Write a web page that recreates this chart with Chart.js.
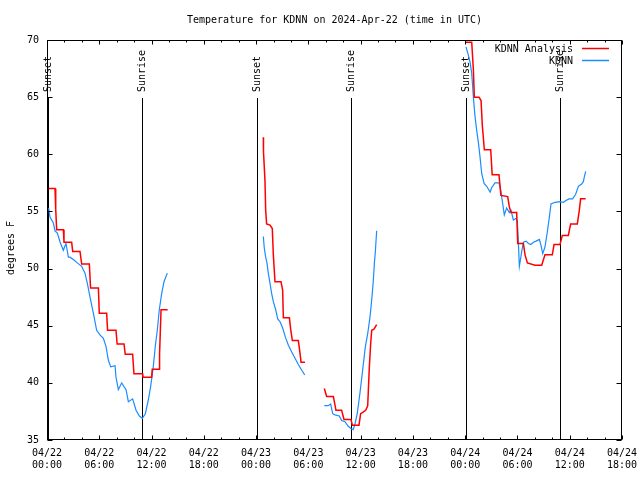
<!DOCTYPE html>
<html>
<head>
<meta charset="utf-8">
<title>Temperature for KDNN</title>
<script src="https://cdn.jsdelivr.net/npm/chart.js@4.4.1/dist/chart.umd.min.js"></script>
<style>
  html, body { margin: 0; padding: 0; background: #fff; }
  #wrap { width: 640px; height: 480px; }
</style>
</head>
<body>
<div id="wrap"><canvas id="tempChart"></canvas></div>
<script>
/* =========================
   DATA (hours since 04/22 00:00 UTC, degrees F)
   null = gap in the record
========================= */
const analysisHours = [
  0.19, 0.92, 1.0, 1.11, 1.88, 1.95, 2.83, 2.95, 3.79, 3.98, 4.86, 5.0, 5.9, 6.0, 6.85,
  6.95, 7.92, 8.05, 8.84, 8.98, 9.83, 9.98, 10.98, 11.02, 12.01, 12.08, 12.89, 12.92, 13.09, 13.85,
  19,
  24.83, 24.85, 25.02, 25.1, 25.21, 25.6, 25.86, 25.98, 26.17, 26.86, 27.05, 27.13, 27.82, 27.97,
  28.16, 28.85, 29.04, 29.16, 29.61,
  30.7,
  31.83, 32.1, 32.87, 33.17, 33.82, 34.09, 34.89, 35.05, 35.81, 36.0, 36.2, 36.58, 36.81, 37.0,
  37.15, 37.27, 37.53, 37.84,
  43,
  48.09, 48.75, 48.94, 49.05, 49.59, 49.82, 49.97, 50.2, 50.93, 51.1, 51.88, 52.1, 52.88, 53.07,
  53.26, 53.91, 54.03, 54.68, 54.87, 55.14, 56.01, 56.78, 57.16, 58.0, 58.2, 58.88, 59.15, 59.84,
  60.1, 60.87, 61.1, 61.25, 61.83
];
const analysisTemps = [
  57.0, 57.0, 55.2, 53.4, 53.4, 52.3, 52.3, 51.5, 51.5, 50.4, 50.4, 48.3, 48.3, 46.1, 46.1,
  44.6, 44.6, 43.4, 43.4, 42.5, 42.5, 40.8, 40.8, 40.5, 40.5, 41.2, 41.2, 42.5, 46.4, 46.4,
  null,
  61.5, 60.2, 57.7, 55.1, 53.9, 53.8, 53.5, 51.2, 48.85, 48.85, 48.1, 45.7, 45.7, 44.7,
  43.7, 43.7, 42.6, 41.8, 41.8,
  null,
  39.5, 38.8, 38.8, 37.6, 37.6, 36.8, 36.8, 36.3, 36.3, 37.3, 37.4, 37.6, 38.0, 41.4,
  43.4, 44.6, 44.7, 45.1,
  null,
  69.8, 69.8, 67.4, 65.0, 65.0, 64.7, 62.5, 60.4, 60.4, 58.2, 58.2, 56.4, 56.3, 55.4,
  54.9, 54.9, 52.2, 52.2, 51.2, 50.5, 50.3, 50.3, 51.2, 51.2, 52.1, 52.1, 52.9, 52.9,
  53.9, 53.9, 55.1, 56.1, 56.1
];

const obsHours = [
  0.19, 0.34, 0.73, 0.92, 1.19, 1.49, 1.87, 2.18, 2.45, 2.64, 3.1, 3.48, 3.98, 4.36, 4.63,
  4.94, 5.32, 5.7, 6.08, 6.47, 6.77, 7.04, 7.31, 7.81, 7.92, 8.19, 8.57, 9.07, 9.34, 9.83,
  10.22, 10.6, 10.94, 11.29, 11.63, 11.9, 12.2, 12.43, 12.66, 12.89, 13.16, 13.43, 13.81,
  19,
  24.83, 24.94, 25.1, 25.25, 25.4, 25.6, 25.79, 25.98, 26.25, 26.48, 26.75, 27.05, 27.36, 27.71,
  28.09, 28.47, 28.85, 29.24, 29.58,
  30.7,
  31.83, 32.29, 32.56, 32.79, 33.06, 33.55, 33.82, 34.2, 34.58, 34.89, 35.15, 35.35, 35.61, 35.92,
  36.23, 36.53, 36.81, 37.08, 37.27, 37.46, 37.58, 37.69, 37.84,
  43,
  48.09, 48.36, 48.55, 48.75, 48.94, 49.13, 49.32, 49.52, 49.7, 49.9, 50.17, 50.47, 50.86, 51.05,
  51.43, 51.88, 52.07, 52.3, 52.49, 52.76, 53.07, 53.26, 53.53, 53.84, 53.99, 54.11, 54.22, 54.34,
  54.49, 54.68, 54.99, 55.26, 55.53, 55.83, 56.14, 56.52, 56.71, 56.9, 57.16, 57.43, 57.66, 57.85,
  58.31, 58.88, 59.27, 59.57, 59.91, 60.33, 60.68, 60.99, 61.37, 61.56, 61.67, 61.83
];
const obsTemps = [
  55.3, 54.5, 54.0, 53.3, 53.1, 52.35, 51.6, 52.2, 51.0, 51.0, 50.75, 50.5, 50.2, 49.6, 48.7,
  47.5, 46.1, 44.6, 44.2, 43.9, 43.2, 42.0, 41.4, 41.5, 40.5, 39.4, 40.0, 39.4, 38.35, 38.6,
  37.6, 37.1, 36.9, 37.3, 38.5, 39.7, 41.4, 43.2, 44.6, 46.4, 47.8, 48.85, 49.6,
  null,
  52.8, 51.8, 51.0, 50.5, 49.6, 48.7, 47.8, 47.1, 46.4, 45.6, 45.35, 44.8, 44.0, 43.3,
  42.7, 42.15, 41.6, 41.1, 40.7,
  null,
  38.0, 38.0, 38.15, 37.3, 37.2, 37.1, 36.7, 36.6, 36.2, 36.0, 35.9, 36.4, 37.3, 39.1,
  41.1, 43.1, 44.3, 45.8, 47.25, 49.0, 50.5, 51.5, 53.3,
  null,
  69.4, 68.7, 68.1, 67.1, 65.0, 63.3, 62.1, 61.0, 59.8, 58.3, 57.45, 57.2, 56.7, 57.1,
  57.5, 57.5, 56.9, 55.7, 54.7, 55.3, 54.9, 55.1, 54.25, 54.4, 54.1, 52.2, 50.2, 50.75,
  51.5, 52.3, 52.4, 52.2, 52.1, 52.3, 52.4, 52.55, 52.0, 51.3, 51.9, 53.2, 54.5, 55.65,
  55.8, 55.85, 55.8, 55.95, 56.1, 56.1, 56.5, 57.2, 57.4, 57.6, 58.0, 58.5
];

const sunsetHours = [0.15, 24.07, 48.1];
const sunriseHours = [10.93, 34.93, 58.92];

// labelled x ticks, every 6 hours
const tickHours = [0, 6, 12, 18, 24, 30, 36, 42, 48, 54, 60, 66];
const tickDates = ["04/22", "04/22", "04/22", "04/22", "04/23", "04/23", "04/23", "04/23", "04/24", "04/24", "04/24", "04/24"];
const tickTimes = ["00:00", "06:00", "12:00", "18:00", "00:00", "06:00", "12:00", "18:00", "00:00", "06:00", "12:00", "18:00"];

const titleText = "Temperature for KDNN on 2024-Apr-22 (time in UTC)";
const yTitle = "degrees F";

const RED = "#ff0000";
const BLUE = "#1a8cff";
const FONT = "10px 'DejaVu Sans Mono', 'Liberation Mono', monospace";

function toPoints(hours, temps) {
  return hours.map((h, i) => ({ x: h, y: temps[i] }));
}

/* =========================
   GNUPLOT-STYLE DECORATIONS
========================= */
const decorations = {
  id: "decorations",
  beforeDatasetsDraw(chart) {
    const { ctx, chartArea: a, scales: { x } } = chart;
    ctx.save();
    ctx.strokeStyle = "#000";
    ctx.fillStyle = "#000";
    ctx.lineWidth = 1;
    ctx.font = FONT;
    ctx.textAlign = "left";
    ctx.textBaseline = "middle";
    const mark = (hours, label) => hours.forEach(h => {
      const px = Math.round(x.getPixelForValue(h)) + 0.5;
      ctx.beginPath();
      ctx.moveTo(px, a.top + 58);
      ctx.lineTo(px, a.bottom);
      ctx.stroke();
      ctx.save();
      ctx.translate(px, a.top + 52);
      ctx.rotate(-Math.PI / 2);
      ctx.fillText(label, 0, 0);
      ctx.restore();
    });
    mark(sunsetHours, "Sunset");
    mark(sunriseHours, "Sunrise");
    ctx.restore();
  },
  afterDatasetsDraw(chart) {
    const { ctx, chartArea: a, scales: { x, y } } = chart;
    const L = a.left + 0.5, R = a.right - 0.5, T = a.top + 0.5, B = a.bottom - 0.5;
    ctx.save();
    ctx.strokeStyle = "#000";
    ctx.lineWidth = 1;

    // border
    ctx.strokeRect(L, T, R - L, B - T);

    // x ticks (inward, bottom and top)
    ctx.beginPath();
    x.ticks.forEach(t => {
      const px = Math.round(x.getPixelForValue(t.value)) + 0.5;
      const len = tickHours.includes(t.value) ? 4 : 2;
      ctx.moveTo(px, B); ctx.lineTo(px, B - len);
      ctx.moveTo(px, T); ctx.lineTo(px, T + len);
    });
    // y ticks (inward, left and right)
    y.ticks.forEach(t => {
      const py = Math.round(y.getPixelForValue(t.value)) + 0.5;
      ctx.moveTo(L, py); ctx.lineTo(L + 5, py);
      ctx.moveTo(R, py); ctx.lineTo(R - 5, py);
    });
    ctx.stroke();

    // legend, top right inside the plot
    ctx.font = FONT;
    ctx.fillStyle = "#000";
    ctx.textAlign = "right";
    ctx.textBaseline = "middle";
    chart.data.datasets.forEach((ds, i) => {
      const ly = a.top + 9 + i * 12;
      ctx.fillText(ds.label, a.right - 49, ly);
      ctx.strokeStyle = ds.borderColor;
      ctx.lineWidth = 1.5;
      ctx.beginPath();
      ctx.moveTo(a.right - 40, ly - 0.5);
      ctx.lineTo(a.right - 13, ly - 0.5);
      ctx.stroke();
    });
    ctx.restore();
  },
  afterDraw(chart) {
    const { ctx, chartArea: a } = chart;
    ctx.save();
    ctx.font = FONT;
    ctx.fillStyle = "#000";
    ctx.textAlign = "center";
    ctx.textBaseline = "middle";
    ctx.fillText(titleText, (a.left + a.right) / 2, 20);
    ctx.translate(11, (a.top + a.bottom) / 2 + 8);
    ctx.rotate(-Math.PI / 2);
    ctx.fillText(yTitle, 0, 0);
    ctx.restore();
  }
};

/* =========================
   CHART
========================= */
Chart.defaults.font.family = "'DejaVu Sans Mono', 'Liberation Mono', monospace";
Chart.defaults.font.size = 10;
Chart.defaults.color = "#000";

new Chart(document.getElementById("tempChart"), {
  type: "line",
  data: {
    datasets: [
      {
        label: "KDNN Analysis",
        data: toPoints(analysisHours, analysisTemps),
        borderColor: RED,
        borderWidth: 1.5,
        pointRadius: 0,
        tension: 0,
        spanGaps: false
      },
      {
        label: "KDNN",
        data: toPoints(obsHours, obsTemps),
        borderColor: BLUE,
        borderWidth: 1.2,
        pointRadius: 0,
        tension: 0,
        spanGaps: false
      }
    ]
  },
  options: {
    responsive: true,
    maintainAspectRatio: false,
    animation: false,
    layout: { padding: { top: 40, right: 18, left: 0, bottom: 0 } },
    plugins: {
      legend: { display: false },
      title: { display: false },
      tooltip: { enabled: false }
    },
    scales: {
      x: {
        type: "linear",
        min: 0,
        max: 66,
        grid: { display: false, drawTicks: false },
        border: { display: false },
        ticks: {
          stepSize: 2,
          autoSkip: false,
          maxRotation: 0,
          padding: 7,
          callback: v => {
            const i = tickHours.indexOf(v);
            return i < 0 ? "" : [tickDates[i], tickTimes[i]];
          }
        },
        afterFit: s => { s.height = 40; s.paddingLeft = 0; s.paddingRight = 0; }
      },
      y: {
        min: 35,
        max: 70,
        grid: { display: false, drawTicks: false },
        border: { display: false },
        ticks: { stepSize: 5, padding: 8 },
        afterFit: s => { s.width = 47; s.paddingTop = 0; s.paddingBottom = 0; }
      }
    }
  },
  plugins: [decorations]
});
</script>
</body>
</html>
